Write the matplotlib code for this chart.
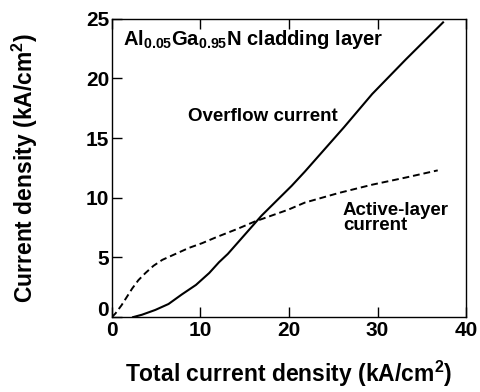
import matplotlib
matplotlib.use('Agg')
import matplotlib.pyplot as plt
import matplotlib.transforms as mtransforms

plt.rcParams['font.family'] = ['Liberation Sans', 'DejaVu Sans']
plt.rcParams['font.weight'] = 'bold'
plt.rcParams['mathtext.default'] = 'regular'

# overflow current through the cladding vs. total current density (kA/cm2)
overflow_x = [2.4, 3.4, 4.9, 6.4, 7.9, 9.5, 11.0, 12.1, 13.1, 15.0, 16.9,
              18.8, 20.3, 21.8, 26.2, 29.4, 33.2, 37.4]
overflow_y = [0.0, 0.2, 0.6, 1.1, 1.9, 2.7, 3.7, 4.6, 5.3, 6.9, 8.5,
              9.9, 11.0, 12.2, 15.9, 18.7, 21.6, 24.7]

# current that stays in the active layer
active_x = [0.0, 0.4, 1.1, 1.7, 2.3, 3.0, 3.8, 4.7, 5.7, 7.2, 8.7, 10.2,
            11.8, 14.2, 16.1, 18.0, 19.9, 21.8, 25.6, 29.4, 33.2, 36.8]
active_y = [0.0, 0.3, 1.0, 1.7, 2.4, 3.1, 3.7, 4.3, 4.8, 5.3, 5.8, 6.2,
            6.7, 7.4, 8.0, 8.5, 9.0, 9.6, 10.4, 11.1, 11.7, 12.3]

x_ticks = [0, 10, 20, 30, 40]
y_ticks = [0, 5, 10, 15, 20, 25]

fig = plt.figure(figsize=(4.8, 3.92), dpi=100)
ax = fig.add_axes([0.233, 0.191, 0.738, 0.761])

ax.plot(overflow_x, overflow_y, color='black', linewidth=1.5)
ax.plot(active_x, active_y, color='black', linewidth=1.4, linestyle=(0, (3.5, 2)))

ax.set_xlim(0, 40)
ax.set_ylim(0, 25)
ax.set_xticks(x_ticks)
ax.set_yticks(y_ticks)
ax.tick_params(direction='in', length=7, width=1, labelsize=15,
               top=True, right=False)
ax.tick_params(axis='x', pad=3)
ax.tick_params(axis='y', pad=2)
for s in ax.spines.values():
    s.set_linewidth(1)

# lift the y "0" so it clears the x "0"
zero_lab = ax.get_yticklabels()[0]
zero_lab.set_transform(zero_lab.get_transform()
                       + mtransforms.ScaledTranslation(0, 6 / 72, fig.dpi_scale_trans))

ax.set_xlabel('Total current density (kA/cm$^2$)', fontsize=16.5,
              fontweight='bold', labelpad=13)
ax.set_ylabel('Current density (kA/cm$^2$)', fontsize=16.5,
              fontweight='bold', labelpad=33)

ax.text(1.3, 23.3, 'Al$_{0.05}$Ga$_{0.95}$N cladding layer', fontsize=14.5,
        va='center', ha='left')
ax.text(8.6, 16.8, 'Overflow current', fontsize=13.5, va='center', ha='left')
ax.text(26.1, 8.3, 'Active-layer\ncurrent', fontsize=13.5, va='center', ha='left',
        linespacing=0.9)

fig.savefig('out.png', dpi=100)
